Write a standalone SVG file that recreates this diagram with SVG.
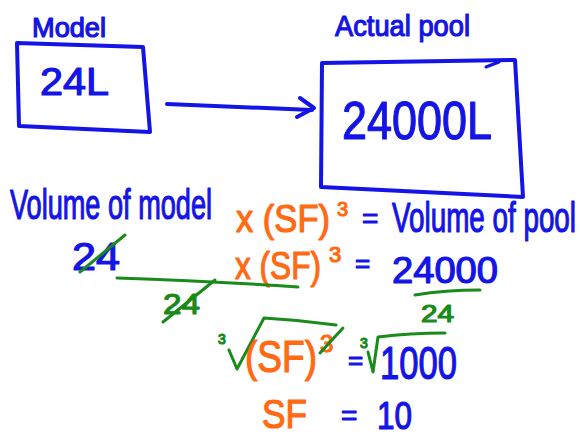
<svg xmlns="http://www.w3.org/2000/svg" width="580" height="436" viewBox="0 0 580 436">
  <style>
    text { font-family: "Liberation Sans", Arial, sans-serif; stroke-width: 1.2; stroke-linejoin: round; }
    .blue { fill: #1414e6; stroke: #1414e6; }
    .orange { fill: #ff6a14; stroke: #ff6a14; }
    .green { fill: #1a8a1a; stroke: #1a8a1a; }
    .ink { fill: none; stroke-linecap: round; stroke-linejoin: round; }
    .b { stroke: #1414e6; }
    .g { stroke: #1a8a1a; }
  </style>
  <rect width="580" height="436" fill="#ffffff"/>

  <!-- Model box -->
  <g id="model">
    <text class="blue" x="32" y="37" font-size="27" textLength="74" lengthAdjust="spacingAndGlyphs">Model</text>
    <path class="ink b" stroke-width="4" d="M17 43 L143 47 L150 132 L19 126 Z"/>
    <text class="blue" x="40" y="95" font-size="38" textLength="69" lengthAdjust="spacingAndGlyphs">24L</text>
  </g>

  <!-- Actual pool box -->
  <g id="pool">
    <text class="blue" x="335" y="36" font-size="30" textLength="135" lengthAdjust="spacingAndGlyphs">Actual pool</text>
    <path class="ink b" stroke-width="4" d="M322 63 L515 60 L523 197 L321 187 Z"/>
    <path class="ink b" stroke-width="3" d="M486 67 L499 62"/>
    <text class="blue" x="342" y="139" font-size="54" textLength="150" lengthAdjust="spacingAndGlyphs">24000L</text>
  </g>

  <!-- Connector -->
  <g id="connectors">
    <path class="ink b" stroke-width="4" d="M167 104 L312 110"/>
    <path class="ink b" stroke-width="4" d="M300 98 L314 108 L297 117"/>
  </g>

  <!-- Volume equation -->
  <g id="equation-words">
    <text class="blue" x="10" y="219" font-size="42" textLength="202" lengthAdjust="spacingAndGlyphs">Volume of model</text>
    <text class="orange" x="236" y="232" font-size="38" textLength="94" lengthAdjust="spacingAndGlyphs">x (SF)</text>
    <text class="orange" x="337" y="216" font-size="20">3</text>
    <text class="blue" x="362" y="228" font-size="28">=</text>
    <text class="blue" x="392" y="232" font-size="42" textLength="184" lengthAdjust="spacingAndGlyphs">Volume of pool</text>
  </g>

  <!-- Numbers substituted -->
  <g id="equation-numbers">
    <text class="blue" x="72" y="270" font-size="38" textLength="48" lengthAdjust="spacingAndGlyphs">24</text>
    <path class="ink g" stroke-width="3" d="M80 272 L125 235"/>
    <text class="orange" x="235" y="279" font-size="38" textLength="86" lengthAdjust="spacingAndGlyphs">x (SF)</text>
    <text class="orange" x="329" y="262" font-size="22">3</text>
    <text class="blue" x="355" y="272" font-size="26">=</text>
    <text class="blue" x="392" y="283" font-size="36" textLength="106" lengthAdjust="spacingAndGlyphs">24000</text>
    <path class="ink g" stroke-width="3" d="M117 278 Q210 281 298 287"/>
    <text class="green" x="163" y="314" font-size="30" textLength="37" lengthAdjust="spacingAndGlyphs">24</text>
    <path class="ink g" stroke-width="3" d="M163 322 L215 280"/>
    <path class="ink g" stroke-width="3" d="M415 295 Q445 290 480 290"/>
    <text class="green" x="421" y="322" font-size="24" textLength="33" lengthAdjust="spacingAndGlyphs">24</text>
  </g>

  <!-- Cube roots -->
  <g id="equation-roots">
    <text class="green" x="218" y="344" font-size="14">3</text>
    <path class="ink g" stroke-width="3" d="M229 350 L237 369 L264 318 Q300 320 336 325"/>
    <text class="orange" x="245" y="372" font-size="44" textLength="72" lengthAdjust="spacingAndGlyphs">(SF)</text>
    <text class="orange" x="320" y="352" font-size="24">3</text>
    <path class="ink g" stroke-width="3" d="M320 353 L343 328"/>
    <text class="blue" x="348" y="369" font-size="26">=</text>
    <text class="green" x="360" y="348" font-size="14">3</text>
    <path class="ink g" stroke-width="3" d="M368 352 L373 372 L378 337 Q410 333 445 333"/>
    <text class="blue" x="380" y="379" font-size="46" textLength="77" lengthAdjust="spacingAndGlyphs">1000</text>
  </g>

  <!-- Result -->
  <g id="equation-result">
    <text class="orange" x="262" y="428" font-size="40" textLength="45" lengthAdjust="spacingAndGlyphs">SF</text>
    <text class="blue" x="341" y="425" font-size="28">=</text>
    <text class="blue" x="377" y="429" font-size="38" textLength="35" lengthAdjust="spacingAndGlyphs">10</text>
  </g>
</svg>
